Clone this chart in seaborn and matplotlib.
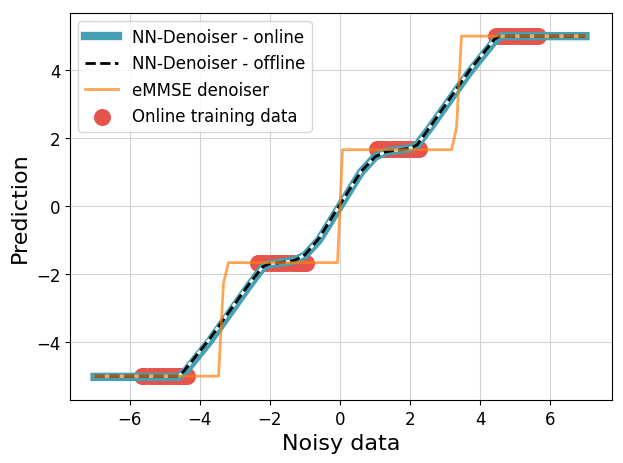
import numpy as np
import pandas as pd
import matplotlib
matplotlib.use("Agg")
import matplotlib.pyplot as plt
import seaborn as sns

# NN denoiser trained online
online_x = [-7.0, -4.6, -4.4, -3.7, -2.6, -2.2, -2.0, -1.7, -1.3, -1.0, -0.6, 0.0,
            0.6, 1.0, 1.3, 1.7, 2.0, 2.2, 2.6, 3.7, 4.4, 4.6, 7.0]
online_y = [-5.02, -5.02, -4.85, -3.95, -2.35, -1.8, -1.7, -1.66, -1.6, -1.45, -1.0, 0.0,
            1.0, 1.45, 1.6, 1.66, 1.7, 1.8, 2.35, 3.95, 4.85, 5.0, 5.0]

# NN denoiser trained offline
offline_x = [-7.0, -4.6, -4.45, -3.7, -2.6, -2.2, -2.0, -1.7, -1.3, -1.0, -0.6, 0.0,
             0.6, 1.0, 1.3, 1.7, 2.0, 2.2, 2.6, 3.7, 4.4, 4.55, 7.0]
offline_y = [-5.0, -5.0, -4.85, -3.88, -2.3, -1.78, -1.69, -1.66, -1.6, -1.43, -0.95, 0.05,
             1.02, 1.45, 1.6, 1.66, 1.7, 1.8, 2.38, 4.0, 4.9, 5.0, 5.0]

# empirical MMSE denoiser
emmse_x = [-7.0, -3.465, -3.323, -3.182, -0.071, 0.071, 3.182, 3.323, 3.465, 7.0]
emmse_y = [-5.0, -5.0, -2.27, -1.66, -1.66, 1.66, 1.66, 2.3, 5.0, 5.0]

# online training data: noisy samples around the 4 symbols
symbols = [-5.0, -5 / 3, 5 / 3, 5.0]
train_x = [
    [-5.65, -5.55, -5.42, -5.3, -5.18, -5.08, -4.98, -4.88, -4.76, -4.65, -4.55, -4.45, -4.36],
    [-2.34, -2.22, -2.1, -1.98, -1.86, -1.74, -1.62, -1.5, -1.38, -1.26, -1.14, -1.04, -0.97],
    [1.06, 1.15, 1.26, 1.38, 1.5, 1.62, 1.74, 1.86, 1.98, 2.08, 2.18, 2.25],
    [4.46, 4.56, 4.68, 4.8, 4.92, 5.04, 5.16, 5.28, 5.4, 5.5, 5.6, 5.66],
]

train_df = pd.DataFrame({
    "x": [v for xs in train_x for v in xs],
    "y": [s for s, xs in zip(symbols, train_x) for _ in xs],
})

fig = plt.figure(figsize=(6.23, 4.64), dpi=100)
ax = fig.add_axes([0.1124, 0.1358, 0.8695, 0.834])

sns.lineplot(x=online_x, y=online_y, ax=ax, color="#46a0b5", lw=6,
             sort=False, estimator=None, label="NN-Denoiser - online", zorder=2)
sns.lineplot(x=offline_x, y=offline_y, ax=ax, color="black", lw=2, linestyle="--",
             sort=False, estimator=None, label="NN-Denoiser - offline", zorder=3)
ax.lines[-1].set_gapcolor("white")
sns.lineplot(x=emmse_x, y=emmse_y, ax=ax, color="#ff7f0e", alpha=0.7, lw=2,
             sort=False, estimator=None, label="eMMSE denoiser", zorder=4)
sns.scatterplot(data=train_df, x="x", y="y", ax=ax, color="#e5534b", s=150,
                linewidth=0, label="Online training data", zorder=1.5)

ax.set_xlim(-7.7, 7.75)
ax.set_ylim(-5.7, 5.68)
ax.set_xticks([-6, -4, -2, 0, 2, 4, 6])
ax.set_yticks([-4, -2, 0, 2, 4])
ax.tick_params(labelsize=12)
ax.grid(True, color="#d3d3d3", lw=0.8)
ax.set_axisbelow(True)
ax.set_xlabel("Noisy data", fontsize=16)
ax.set_ylabel("Prediction", fontsize=16)
ax.legend(loc="upper left", fontsize=12)

fig.savefig("out.png", dpi=100)
